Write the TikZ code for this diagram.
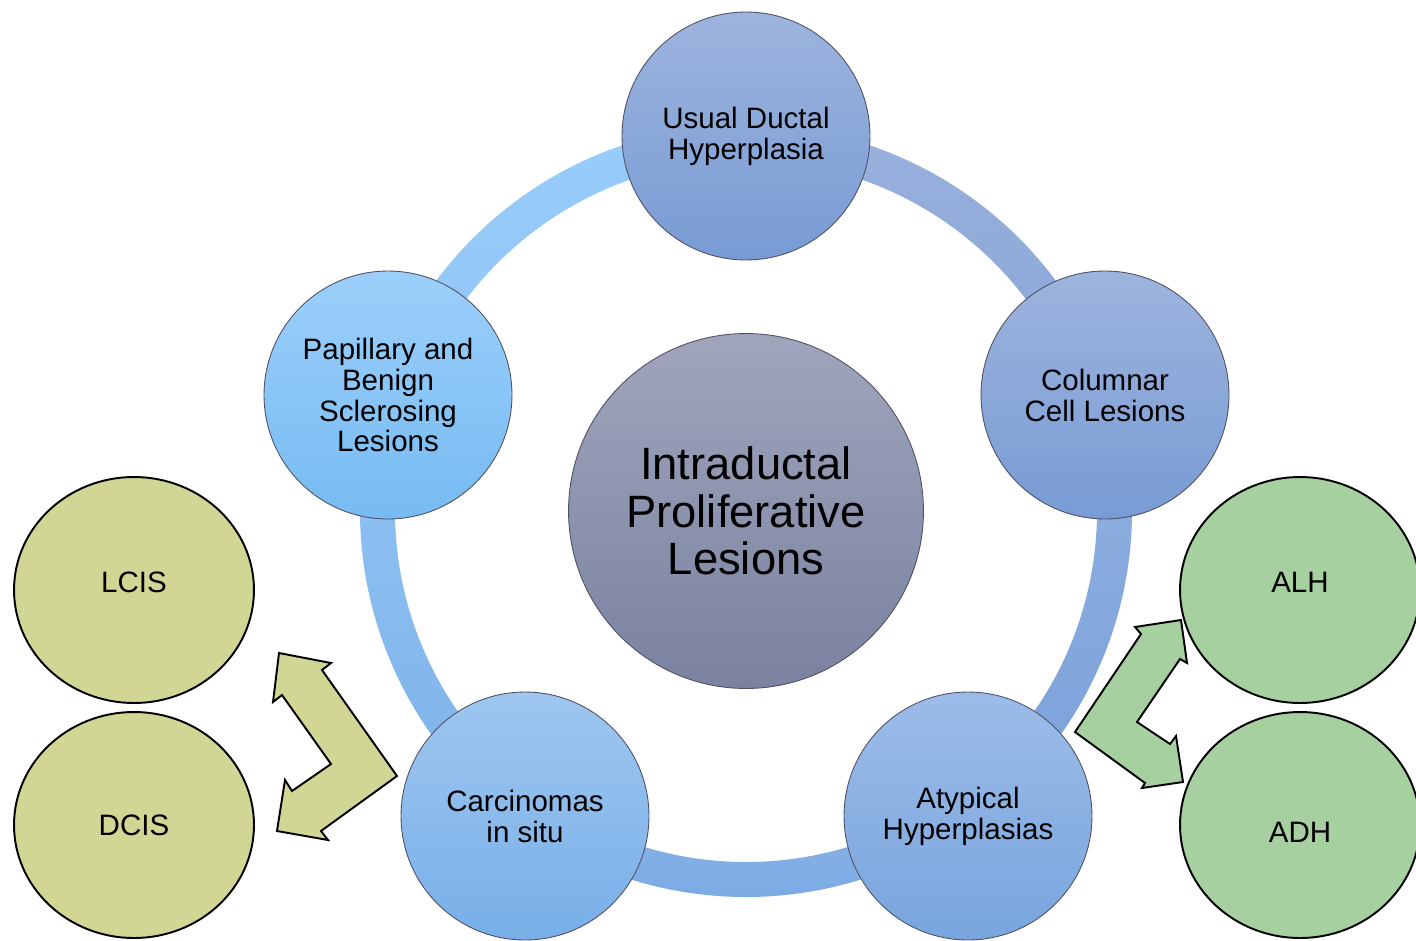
\documentclass[tikz,border=0pt]{standalone}
\usepackage{fontspec}
\setmainfont{Liberation Sans}
\usetikzlibrary{shapes.geometric,calc}

\definecolor{rimgray}{RGB}{80,80,100}
\definecolor{udhtop}{RGB}{157,180,222}
\definecolor{udhbot}{RGB}{120,155,212}
\definecolor{paptop}{RGB}{156,207,251}
\definecolor{papbot}{RGB}{118,187,242}
\definecolor{cistop}{RGB}{158,198,240}
\definecolor{cisbot}{RGB}{120,175,232}
\definecolor{atytop}{RGB}{156,188,232}
\definecolor{atybot}{RGB}{120,165,222}
\definecolor{midtop}{RGB}{160,165,188}
\definecolor{midbot}{RGB}{122,130,160}
\definecolor{olive}{RGB}{209,214,148}
\definecolor{sage}{RGB}{166,208,160}
\definecolor{ringAt}{RGB}{152,204,250}
\definecolor{ringAb}{RGB}{144,196,245}
\definecolor{ringBt}{RGB}{152,176,221}
\definecolor{ringBb}{RGB}{138,167,214}
\definecolor{ringCt}{RGB}{145,177,224}
\definecolor{ringCb}{RGB}{122,160,218}
\definecolor{ringDt}{RGB}{142,180,230}
\definecolor{ringDb}{RGB}{118,168,228}
\definecolor{ringEt}{RGB}{146,196,244}
\definecolor{ringEb}{RGB}{125,178,232}

\begin{document}
\begin{tikzpicture}[x=0.02cm,y=-0.02cm,
    every node/.style={font=\fontsize{16.8}{17.6}\selectfont,align=center},
    lesion/.style={circle,draw=rimgray,line width=0.5pt,minimum size=4.96cm,inner sep=0pt},
    grade/.style={ellipse,draw=black,line width=1.1pt,minimum width=4.8cm,minimum height=4.52cm,inner sep=0pt},
    bentarrow/.style={draw=black,line width=1.1pt,line join=miter}]
  \useasboundingbox (0,0) rectangle (1416,940);
  \coordinate (mid) at (746,511);

  % ring
  \foreach \a/\b/\ct/\cb in {198/270/ringAt/ringAb,-90/-18/ringBt/ringBb,-18/54/ringCt/ringCb,54/126/ringDt/ringDb,126/198/ringEt/ringEb}
    \path[top color=\ct,bottom color=\cb] ($(mid)+(\a:386)$) arc[start angle=\a,end angle=\b,radius=386]
      -- ($(mid)+(\b:351)$) arc[start angle=\b,end angle=\a,radius=351] -- cycle;

  % lesion circles
  \node[lesion,top color=udhtop,bottom color=udhbot] (udh) at (746,136) {Usual Ductal\\Hyperplasia};
  \node[lesion,top color=udhtop,bottom color=udhbot] (ccl) at (1105,395) {Columnar\\Cell Lesions};
  \node[lesion,top color=atytop,bottom color=atybot] (aty) at (968,816) {Atypical\\Hyperplasias};
  \node[lesion,top color=cistop,bottom color=cisbot] (cis) at (525,816) {Carcinomas\\in situ};
  \node[lesion,top color=paptop,bottom color=papbot] (pap) at (388,395) {Papillary and\\Benign\\Sclerosing\\Lesions};
  \node[circle,draw=rimgray,line width=0.5pt,minimum size=7.1cm,inner sep=0pt,
        top color=midtop,bottom color=midbot,font=\fontsize{25.8}{27}\selectfont] (ipl) at (mid)
        {Intraductal\\Proliferative\\Lesions};

  % outcomes
  \node[grade,fill=olive,text height=0.42cm,text depth=0.32cm] (lcis) at (134,590) {LCIS};
  \node[grade,fill=olive] (dcis) at (134,825) {DCIS};
  \node[grade,fill=sage,text height=0.42cm,text depth=0.32cm] (alh) at (1300,590) {ALH};
  \node[grade,fill=sage,text height=0.70cm,text depth=0cm] (adh) at (1300,825) {ADH};

  % bent arrows
  \draw[bentarrow,fill=olive] (279,653) -- (331,663) -- (322,670) -- (397,776) -- (321,831) -- (328,840)
    -- (277,831) -- (285,780) -- (292,791) -- (331,764) -- (282,695) -- (273,702) -- cycle;
  \draw[bentarrow,fill=sage] (1181,620) -- (1187,663) -- (1180,659) -- (1137,722) -- (1170,744) -- (1176,736)
    -- (1183,782) -- (1142,788) -- (1145,783) -- (1075,732) -- (1141,634) -- (1135,627) -- cycle;
\end{tikzpicture}
\end{document}
